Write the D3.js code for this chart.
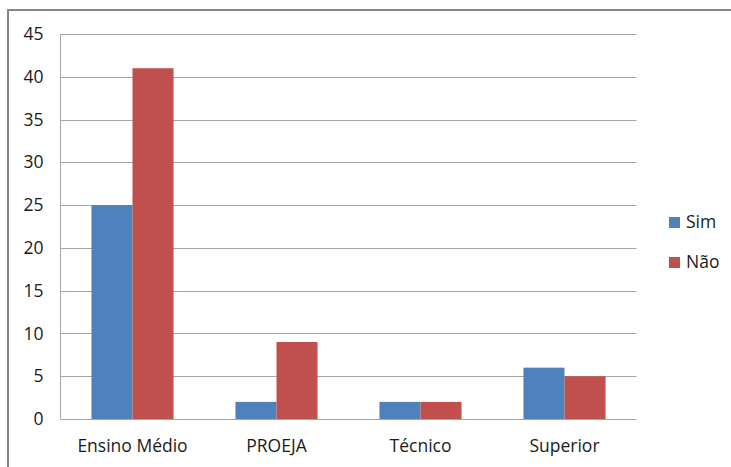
<!DOCTYPE html>
<html>
<head>
<meta charset="utf-8">
<script src="https://cdn.jsdelivr.net/npm/d3@7"></script>
<style>
  body { margin: 0; background: #fff; }
  svg text { font-family: "Open Sans", "Liberation Sans", sans-serif; fill: #1a1a1a; }
</style>
</head>
<body>
<svg id="canvas" width="731" height="467"></svg>
<script>
let categories = ['Ensino Médio', 'PROEJA', 'Técnico', 'Superior'];
let seriesNames = ['Sim', 'Não'];
let simValues = [25, 2, 2, 6];
let naoValues = [41, 9, 2, 5];
let yTicks = [0, 5, 10, 15, 20, 25, 30, 35, 40, 45];
let colors = ['#4f81bd', '#c0504d'];

let canvas = d3.select('#canvas');

// outer frame, runs off the right and bottom edges
canvas.append('rect')
  .attr('x', 8).attr('y', 10)
  .attr('width', 740).attr('height', 480)
  .attr('fill', 'none')
  .attr('stroke', '#868686')
  .attr('stroke-width', 2);

let plotLeft = 60.5, plotRight = 636.5, plotTop = 34, plotBottom = 419;

let yScale = d3.scaleLinear().domain([0, 45]).range([plotBottom, plotTop]);
let xScale = d3.scaleBand().domain(categories).range([plotLeft, plotRight])
  .paddingInner(0.43).paddingOuter(0.215);
let xInner = d3.scaleBand().domain(seriesNames).range([0, xScale.bandwidth()]);

// gridlines
canvas.append('g')
  .selectAll('line')
  .data(yTicks)
  .enter()
  .append('line')
  .attr('x1', plotLeft).attr('x2', plotRight)
  .attr('y1', (d) => Math.round(yScale(d)) + 0.5)
  .attr('y2', (d) => Math.round(yScale(d)) + 0.5)
  .attr('stroke', '#a6a6a6')
  .attr('stroke-width', 1);

// left axis line
canvas.append('line')
  .attr('x1', plotLeft).attr('x2', plotLeft)
  .attr('y1', plotTop).attr('y2', plotBottom)
  .attr('stroke', '#a6a6a6');

let rows = categories.map((c, i) => ({ category: c, values: [simValues[i], naoValues[i]] }));

let groups = canvas.selectAll('g.cat')
  .data(rows)
  .enter()
  .append('g')
  .attr('class', 'cat')
  .attr('transform', (d) => 'translate(' + xScale(d.category) + ',0)');

groups.selectAll('rect')
  .data((d) => d.values.map((v, j) => ({ name: seriesNames[j], value: v, color: colors[j] })))
  .enter()
  .append('rect')
  .attr('x', (d) => xInner(d.name))
  .attr('width', xInner.bandwidth())
  .attr('y', (d) => yScale(d.value))
  .attr('height', (d) => plotBottom - yScale(d.value))
  .attr('fill', (d) => d.color);

// y axis labels
let yAxis = d3.axisLeft(yScale).tickValues(yTicks).tickSize(0).tickPadding(17);
let yg = canvas.append('g').attr('transform', 'translate(' + plotLeft + ',0)').call(yAxis);
yg.select('.domain').remove();
yg.selectAll('text').style('font-size', '17.5px').attr('fill', '#1a1a1a');

// x axis labels
let xAxis = d3.axisBottom(xScale).tickSize(0).tickPadding(21);
let xg = canvas.append('g').attr('transform', 'translate(0,' + plotBottom + ')').call(xAxis);
xg.select('.domain').remove();
xg.selectAll('text').style('font-size', '17.5px').attr('fill', '#1a1a1a');

// legend
let legend = canvas.selectAll('g.legend')
  .data(seriesNames)
  .enter()
  .append('g')
  .attr('class', 'legend')
  .attr('transform', (d, i) => 'translate(669,' + (217 + i * 40) + ')');

legend.append('rect')
  .attr('width', 11).attr('height', 11)
  .attr('fill', (d, i) => colors[i]);

legend.append('text')
  .attr('x', 17).attr('y', 11)
  .style('font-size', '17.5px')
  .text((d) => d);
</script>
</body>
</html>
